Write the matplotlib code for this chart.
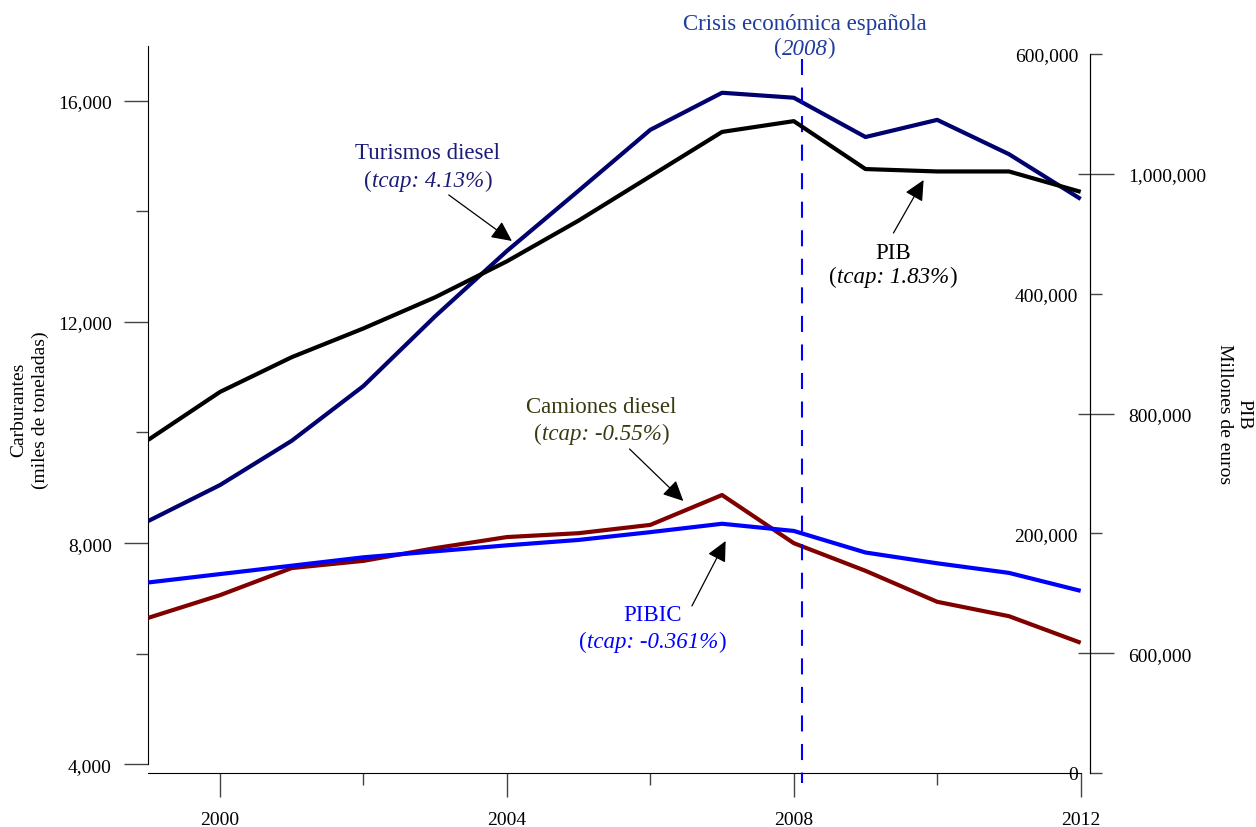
import matplotlib
matplotlib.use("Agg")
import matplotlib.pyplot as plt
from matplotlib.ticker import FuncFormatter, FixedLocator
from matplotlib.offsetbox import TextArea, HPacker, AnnotationBbox

plt.rcParams['font.family'] = ['Liberation Serif', 'DejaVu Serif']

# ---------------- data ----------------
years = [1999, 2000, 2001, 2002, 2003, 2004, 2005, 2006, 2007, 2008, 2009, 2010, 2011, 2012]
turismos_diesel = [8400, 9050, 9850, 10840, 12100, 13280, 14370, 15470, 16140, 16050, 15340, 15650, 15030, 14220]
camiones_diesel = [6650, 7060, 7550, 7680, 7910, 8110, 8180, 8330, 8870, 8000, 7500, 6940, 6680, 6200]
pib = [778000, 818000, 847000, 871000, 897000, 927000, 961000, 998000, 1035000, 1044000, 1004000, 1002000, 1002000, 985000]
pibic = [159000, 166000, 173000, 180000, 185000, 190000, 194500, 201000, 208000, 202000, 184000, 175000, 167000, 152000]

x_major = [2000, 2004, 2008, 2012]
x_minor = [2002, 2006, 2010]
left_major = [4000, 8000, 12000, 16000]
left_minor = [6000, 10000, 14000]
pib_ticks = [600000, 800000, 1000000]
pibic_ticks = [0, 200000, 400000, 600000]
pibic_inner_ticks = [100000, 300000, 500000]
crisis_year = 2008.11

# ---------------- figure ----------------
W, H, DPI = 1256, 828, 100
fig = plt.figure(figsize=(W / DPI, H / DPI), dpi=DPI)
L, R, T, B = 148.25, 1090, 47, 774
ax = fig.add_axes([L / W, 1 - B / H, (R - L) / W, (B - T) / H])
ax.patch.set_alpha(0)

ax.set_xlim(1999, 2012.13)
ax.set_ylim(3846, 16985)
for s in ('top', 'right'):
    ax.spines[s].set_visible(False)
ax.spines['left'].set_bounds(4000, 16985)
ax.spines['bottom'].set_bounds(1999, 2012)

ax.set_xticks(x_major)
ax.xaxis.set_minor_locator(FixedLocator(x_minor))
ax.set_yticks(left_major)
ax.yaxis.set_minor_locator(FixedLocator(left_minor))
ax.yaxis.set_major_formatter(FuncFormatter(lambda v, p: f"{v:,.0f}"))
tickc = '#444444'
ax.tick_params(axis='both', which='major', length=17.3, width=1, color=tickc,
               labelsize=14, pad=8.8)
ax.tick_params(axis='both', which='minor', length=8.6, width=1, color=tickc)
ax.tick_params(axis='x', which='major', pad=10)

ax.plot(years, turismos_diesel, color='#00006e', lw=3, solid_capstyle='butt', zorder=3)
ax.plot(years, camiones_diesel, color='#800000', lw=3, solid_capstyle='butt', zorder=3)

# PIB axis (right, labels outside)
axB = ax.twinx()
axB.set_ylim(500000, 1106700)
for s in ('top', 'left', 'bottom'):
    axB.spines[s].set_visible(False)
axB.spines['right'].set_bounds(500000, 1100000)
axB.set_yticks(pib_ticks)
axB.yaxis.set_major_formatter(FuncFormatter(lambda v, p: f"{v:,.0f}"))
axB.tick_params(axis='y', direction='out', length=17.3, width=1, color=tickc,
                labelsize=14, pad=10)
axB.plot(years, pib, color='black', lw=3, solid_capstyle='butt', zorder=3)

# PIBIC axis (same spine position, labels inside)
axA = ax.twinx()
axA.set_ylim(0, 606700)
for s in ('top', 'right', 'bottom'):
    axA.spines[s].set_visible(False)
axA.yaxis.tick_left()
axA.spines['left'].set_position(('axes', 1.0))
axA.spines['left'].set_bounds(0, 600000)
axA.set_yticks(pibic_ticks)
axA.yaxis.set_minor_locator(FixedLocator(pibic_inner_ticks))
axA.yaxis.set_major_formatter(FuncFormatter(lambda v, p: f"{v:,.0f}"))
axA.tick_params(axis='y', which='major', direction='in', length=8.6, width=1,
                color=tickc, labelsize=14, pad=8.6)
axA.tick_params(axis='y', which='minor', direction='out', length=8.6, width=1,
                color=tickc)
axA.plot(years, pibic, color='#0000ff', lw=3, solid_capstyle='butt', zorder=3)

# crisis line
ax.plot([crisis_year, crisis_year], [16751, 3666], color='#0000ff', lw=1.5,
        ls=(0, (7.7, 6.0)), clip_on=False, zorder=4)

# axis titles
fig.text(30 / W, 1 - 410 / H, "Carburantes\n(miles de toneladas)", rotation=90,
         ha='center', va='center', fontsize=14, multialignment='center',
         linespacing=1.35)
fig.text(1234.5 / W, 1 - 414 / H, "PIB\nMillones de euros", rotation=270,
         ha='center', va='center', fontsize=14, multialignment='center')

# annotations
FS = 16.5


def mixed(axis, x, y, parts, color, size=FS):
    boxes = [TextArea(t, textprops=dict(color=color, fontsize=size, fontstyle=st))
             for t, st in parts]
    pack = HPacker(children=boxes, align='baseline', pad=0, sep=0)
    ab = AnnotationBbox(pack, (x, y), xycoords='data', frameon=False,
                        box_alignment=(0.5, 0.5), pad=0, annotation_clip=False)
    axis.add_artist(ab)


def label(x, y1, y2, title, tcap, color):
    ax.text(x, y1, title, color=color, fontsize=FS, ha='center', va='center')
    mixed(ax, x, y2, [("(", 'normal'), ("tcap: " + tcap, 'italic'), (")", 'normal')], color)


def arrow(xt, yt, xh, yh):
    ax.annotate("", xy=(xh, yh), xytext=(xt, yt),
                arrowprops=dict(arrowstyle='-|>,head_length=0.62,head_width=0.3',
                                color='black', lw=0.9, mutation_scale=20,
                                shrinkA=0, shrinkB=0), annotation_clip=False)


label(2002.90, 15069, 14563, "Turismos diesel", "4.13%", '#1c1c78')
arrow(2003.19, 14293, 2004.07, 13461)

label(2009.38, 13244, 12829, "PIB", "1.83%", 'black')
arrow(2009.39, 13606, 2009.81, 14563)

label(2005.32, 10461, 9991, "Camiones diesel", "-0.55%", '#3a3a12')
arrow(2005.71, 9702, 2006.46, 8762)

label(2006.03, 6702, 6232, "PIBIC", "-0.361%", '#0000ff')
arrow(2006.58, 6865, 2007.05, 8039)

crisis_c = '#1f3d9c'
ax.text(2008.15, 17400, "Crisis económica española", color=crisis_c, fontsize=FS,
        ha='center', va='center', clip_on=False)
mixed(ax, 2008.15, 16950, [("(", 'normal'), ("2008", 'italic'), (")", 'normal')], crisis_c)

fig.savefig("out.png", dpi=DPI)
